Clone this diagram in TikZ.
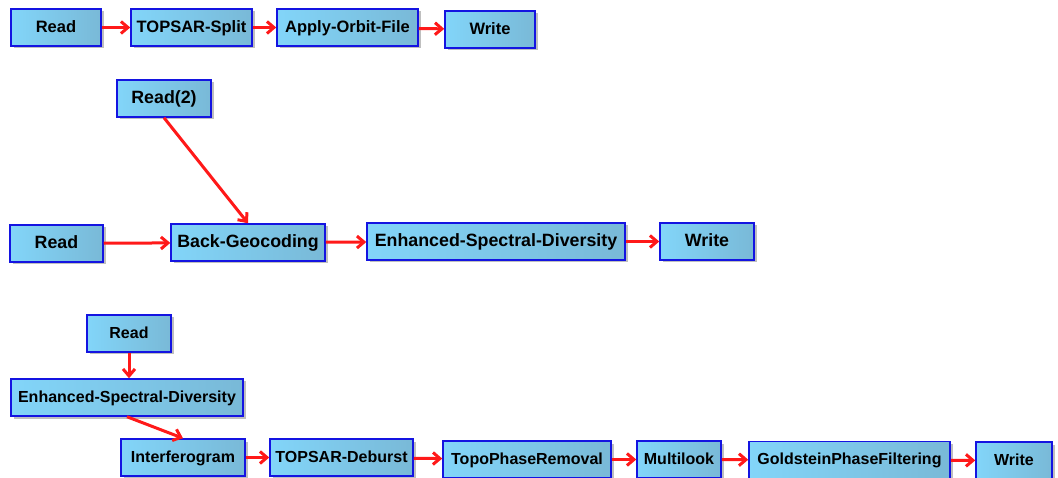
\documentclass[tikz,border=0pt]{standalone}
\usepackage{fontspec}
\setmainfont{Liberation Sans}
\usetikzlibrary{arrows.meta,shadows}

\definecolor{boxleft}{RGB}{130,213,249}
\definecolor{boxright}{RGB}{121,185,215}
\definecolor{boxline}{RGB}{20,20,225}
\definecolor{flowred}{RGB}{255,25,25}

\tikzset{
  opbox/.style={draw=boxline, line width=1.5pt, left color=boxleft, right color=boxright,
    inner sep=0pt, minimum height=37pt, text depth=1.5pt,
    drop shadow={shadow xshift=2.5pt, shadow yshift=-2.5pt, fill=black, opacity=0.25}},
  flow/.style={draw=flowred, line width=3pt, -{Straight Barb[length=7pt,width=12pt]}}
}

\begin{document}
\begin{tikzpicture}[x=1pt, y=-1pt]
    \useasboundingbox (0,0) rectangle (1058,478);

    % 1段目：分割と軌道補正
    \begin{scope}[every node/.append style={text height=11pt, font=\bfseries\fontsize{16.5}{18}\selectfont}]
    \node[opbox, minimum width=90pt]  (r1read)  at (56,27.5)    {Read};
    \node[opbox, minimum width=121pt] (r1split) at (191.5,27.5) {TOPSAR-Split};
    \node[opbox, minimum width=141pt] (r1orbit) at (347.5,27.5) {Apply-Orbit-File};
    \node[opbox, minimum width=90pt]  (r1write) at (490,29.5)   {Write};
    \end{scope}
    \foreach \a/\b in {r1read/r1split, r1split/r1orbit, r1orbit/r1write}{
        \draw[flow] (\a) -- (\b);
    }

    % 2段目：位置合わせ（2入力）
    \begin{scope}[every node/.append style={minimum height=39pt, text height=12pt, font=\bfseries\fontsize{17.8}{20}\selectfont}]
    \node[opbox, minimum width=94pt]  (r2read2) at (164,98.5)  {Read(2)};
    \node[opbox, minimum width=93pt]  (r2read)  at (56.5,243.5) {Read};
    \node[opbox, minimum width=154pt] (r2geo)   at (248,242.5) {Back-Geocoding};
    \node[opbox, minimum width=258pt] (r2esd)   at (496,241.5) {Enhanced-Spectral-Diversity};
    \node[opbox, minimum width=94pt]  (r2write) at (707,241.5) {Write};
    \end{scope}
    \draw[flow] (r2read2.south) -- (r2geo.north);
    \foreach \a/\b in {r2read/r2geo, r2geo/r2esd, r2esd/r2write}{
        \draw[flow] (\a) -- (\b);
    }

    % 3段目：干渉処理の流れ
    \begin{scope}[every node/.append style={minimum height=35pt, text height=11pt, font=\bfseries\fontsize{16}{18}\selectfont}]
    \node[opbox, minimum width=84pt]  (r3read)  at (129,333.5)  {Read};
    \node[opbox, minimum width=232pt] (r3esd)   at (127,397.5)  {Enhanced-Spectral-Diversity};
    \node[opbox, minimum width=124pt] (r3ifg)   at (183,457.5)  {Interferogram};
    \node[opbox, minimum width=143pt] (r3deb)   at (341.5,457.5) {TOPSAR-Deburst};
    \node[opbox, minimum width=168pt] (r3topo)  at (527,459.5)  {TopoPhaseRemoval};
    \node[opbox, minimum width=84pt]  (r3ml)    at (679,459.5)  {Multilook};
    \node[opbox, minimum width=201pt] (r3gold)  at (849.5,460)  {GoldsteinPhaseFiltering};
    \node[opbox, minimum width=76pt]  (r3write) at (1014,460.5) {Write};
    \end{scope}
    \draw[flow] (r3read.south) -- (r3read.south |- r3esd.north);
    \draw[flow] (r3esd.south) -- (r3ifg.north);
    \foreach \a/\b in {r3ifg/r3deb, r3deb/r3topo, r3topo/r3ml, r3ml/r3gold, r3gold/r3write}{
        \draw[flow] (\a) -- (\b);
    }
\end{tikzpicture}
\end{document}
